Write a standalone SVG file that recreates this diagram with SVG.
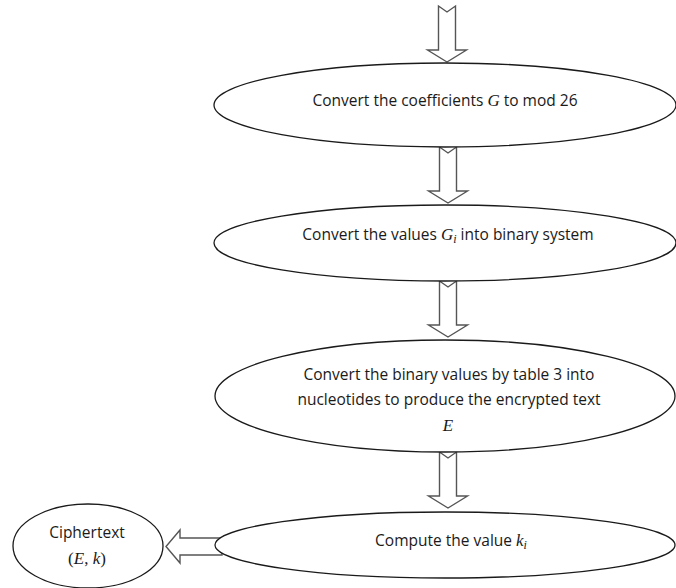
<svg xmlns="http://www.w3.org/2000/svg" width="676" height="588" viewBox="0 0 676 588">
  <defs>
    <style>
      .node { fill: #ffffff; stroke: #1a1a1a; stroke-width: 1.3; }
      .flow { fill: #ffffff; stroke: #555555; stroke-width: 1.4; stroke-linejoin: miter; }
      .lbl { font-family: "Open Sans", "Liberation Sans", Arial, sans-serif; font-size: 15.5px; fill: #1a1a1a; text-anchor: middle; }
      .math { font-family: "Liberation Serif", "Times New Roman", serif; font-style: italic; font-size: 17px; }
      .mathup { font-family: "Liberation Serif", "Times New Roman", serif; font-size: 17px; }
      .sub { font-family: "Liberation Serif", "Times New Roman", serif; font-style: italic; font-size: 12px; }
    </style>
    <!-- hollow block arrow pointing down, origin at the top centre of its shaft -->
    <path id="down" d="M -8.5 0 L 0 6 L 8.5 0 L 8.5 44 L 19.5 44 L 0 56 L -19.5 44 L -8.5 44 Z"/>
  </defs>

  <!-- connectors -->
  <g id="connectors">
    <use href="#down" class="flow" x="447" y="6"/>
    <use href="#down" class="flow" x="448" y="147"/>
    <use href="#down" class="flow" x="448" y="281"/>
    <use href="#down" class="flow" x="448" y="452"/>
    <path class="flow" d="M 222 538 L 180 538 L 180 530 L 166 546.5 L 180 563 L 180 555 L 222 555 Z"/>
  </g>

  <g id="step-mod26">
    <ellipse class="node" cx="445" cy="105" rx="231" ry="42"/>
    <text class="lbl" x="445" y="106">Convert the coefficients <tspan class="math">G</tspan> to mod 26</text>
  </g>

  <g id="step-binary">
    <ellipse class="node" cx="445" cy="243" rx="231" ry="38"/>
    <text class="lbl" x="448" y="240">Convert the values <tspan class="math">G</tspan><tspan class="sub" dy="3">i</tspan><tspan dy="-3"> into binary system</tspan></text>
  </g>

  <g id="step-nucleotides">
    <ellipse class="node" cx="445" cy="396" rx="230" ry="56"/>
    <text class="lbl" x="449" y="380">Convert the binary values by table  3 into</text>
    <text class="lbl" x="449" y="405">nucleotides to produce the encrypted text</text>
    <text class="lbl math" x="448" y="431">E</text>
  </g>

  <g id="step-key">
    <ellipse class="node" cx="445" cy="545" rx="230" ry="33"/>
    <text class="lbl" x="451" y="546">Compute the value <tspan class="math">k</tspan><tspan class="sub" dy="3">i</tspan></text>
  </g>

  <g id="ciphertext">
    <ellipse class="node" cx="88" cy="546" rx="75" ry="42"/>
    <text class="lbl" x="87" y="538">Ciphertext</text>
    <text class="lbl" x="87" y="564"><tspan class="mathup">(</tspan><tspan class="math">E</tspan><tspan class="mathup">, </tspan><tspan class="math">k</tspan><tspan class="mathup">)</tspan></text>
  </g>
</svg>
